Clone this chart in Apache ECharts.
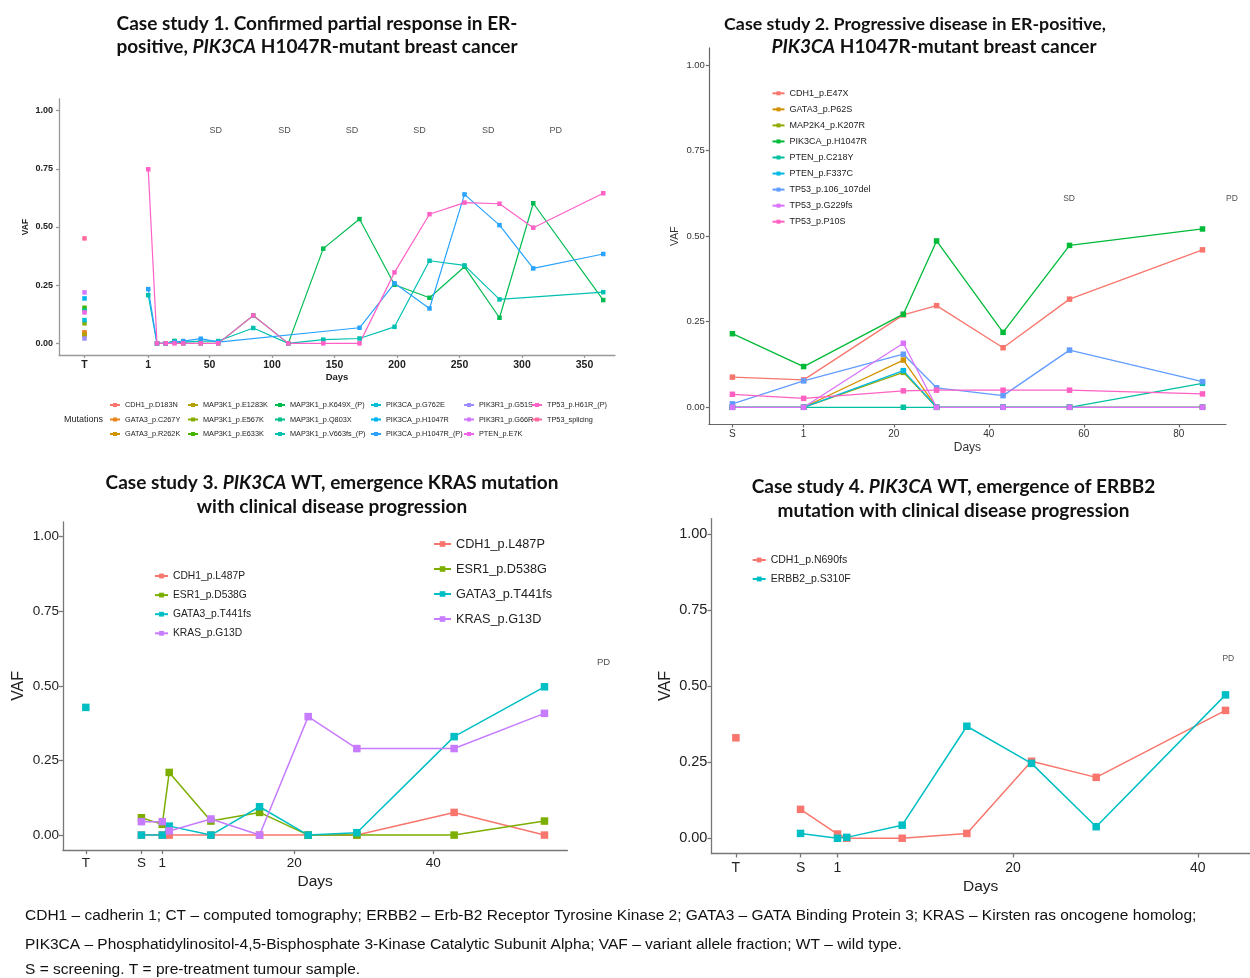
<!DOCTYPE html>
<html><head><meta charset="utf-8">
<script src="https://cdn.jsdelivr.net/npm/echarts@6/dist/echarts.min.js"></script>
<style>
body{margin:0;background:#fff;width:1250px;height:978px;position:relative;overflow:hidden}
.c{position:absolute}
</style></head><body>
<div id="p1" class="c" style="left:0;top:0;width:625px;height:460px"></div>
<div id="p2" class="c" style="left:625px;top:0;width:625px;height:460px"></div>
<div id="p3" class="c" style="left:0;top:460px;width:625px;height:440px"></div>
<div id="p4" class="c" style="left:625px;top:460px;width:625px;height:440px"></div>
<div id="foot" class="c" style="left:0;top:900px;width:1250px;height:78px"></div>
<script>
// ---------------- DATA ----------------
const yTicks = [0, 0.25, 0.5, 0.75, 1];

// Case study 1
const p1Mutations = ['CDH1_p.D183N','GATA3_p.C267Y','GATA3_p.R262K','MAP3K1_p.E1283K','MAP3K1_p.E567K','MAP3K1_p.E633K','MAP3K1_p.K649X_(P)','MAP3K1_p.Q803X','MAP3K1_p.V663fs_(P)','PIK3CA_p.G762E','PIK3CA_p.H1047R','PIK3CA_p.H1047R_(P)','PIK3R1_p.G51S','PIK3R1_p.G66R','PTEN_p.E7K','TP53_p.H61R_(P)','TP53_splicing'];
const p1TumourDay = -50;
const p1TumourVAF = [0.045, 0.047, 0.036, 0.036, 0.086, 0.153, null, 0.142, null, 0.100, 0.193, null, 0.021, 0.219, 0.133, null, 0.451];
const p1Days = [1, 8, 15, 22, 29, 43, 57, 85, 113, 141, 170, 198, 226, 254, 282, 309, 365];
const p1_MAP3K1_K649X_P  = [null, 0, 0, 0.010, 0, 0, 0, 0.120, 0, 0.407, 0.534, 0.252, 0.196, 0.329, 0.110, 0.602, 0.186];
const p1_MAP3K1_V663fs_P = [0.207, 0, 0, 0.010, 0.005, 0.010, 0.010, 0.066, 0, 0.016, 0.021, 0.071, 0.355, 0.335, 0.189, null, 0.220];
const p1_PIK3CA_H1047R_P = [0.233, 0, 0, 0.005, 0.010, 0.020, 0.005, null, null, null, 0.067, 0.258, 0.150, 0.640, 0.508, 0.322, 0.384];
const p1_TP53_H61R_P     = [0.748, 0, 0, 0, 0, 0, 0, 0.120, 0, 0, 0, 0.305, 0.555, 0.605, 0.600, 0.497, 0.645];
const p1XTicks = [-50, 1, 50, 100, 150, 200, 250, 300, 350];
const p1XLabels = ['T', '1', '50', '100', '150', '200', '250', '300', '350'];
const p1RespDays = [55, 110, 164, 218, 273, 327];
const p1RespText = ['SD', 'SD', 'SD', 'SD', 'SD', 'PD'];
const p1RespVAF = 0.913;

// Case study 2
const p2Mutations = ['CDH1_p.E47X','GATA3_p.P62S','MAP2K4_p.K207R','PIK3CA_p.H1047R','PTEN_p.C218Y','PTEN_p.F337C','TP53_p.106_107del','TP53_p.G229fs','TP53_p.P10S'];
const p2Days = [-14, 1, 22, 29, 43, 57, 85];
const p2_CDH1_E47X      = [0.088, 0.080, 0.270, 0.297, 0.174, 0.316, 0.460];
const p2_GATA3_P62S     = [0, 0, 0.138, 0, 0, 0, 0];
const p2_MAP2K4_K207R   = [0, 0, 0.102, 0, 0, 0, 0];
const p2_PIK3CA_H1047R  = [0.215, 0.119, 0.272, 0.486, 0.219, 0.473, 0.521];
const p2_PTEN_C218Y     = [0, 0, 0, 0, 0, 0, 0.070];
const p2_PTEN_F337C     = [0, 0, 0.107, 0, 0, 0, 0];
const p2_TP53_106_107del= [0.010, 0.077, 0.155, 0.057, 0.034, 0.167, 0.075];
const p2_TP53_G229fs    = [0, 0, 0.187, 0, 0, 0, 0];
const p2_TP53_P10S      = [0.038, 0.026, 0.048, 0.050, 0.050, 0.050, 0.039];
const p2XTicks = [-14, 1, 20, 40, 60, 80];
const p2XLabels = ['S', '1', '20', '40', '60', '80'];
const p2RespDays = [56.9, 91.2];
const p2RespText = ['SD', 'PD'];
const p2RespVAF = 0.611;

// Case study 3
const p3Mutations = ['CDH1_p.L487P','ESR1_p.D538G','GATA3_p.T441fs','KRAS_p.G13D'];
const p3TumourDay = -10;
const p3TumourVAF = [null, null, 0.428, null];
const p3Days = [-2, 1, 2, 8, 15, 22, 29, 43, 56];
const p3_CDH1_L487P   = [0, 0, 0, 0, 0, 0, 0, 0.076, 0];
const p3_ESR1_D538G   = [0.058, 0.036, 0.210, 0.047, 0.076, 0, 0, 0, 0.047];
const p3_GATA3_T441fs = [0, 0, 0.030, 0, 0.095, 0, 0.008, 0.330, 0.497];
const p3_KRAS_G13D    = [0.045, 0.045, 0.014, 0.054, 0, 0.397, 0.290, 0.290, 0.408];
const p3XTicks = [-10, -2, 1, 20, 40];
const p3XLabels = ['T', 'S', '1', '20', '40'];
const p3RespDays = [64.5];
const p3RespText = ['PD'];
const p3RespVAF = 0.58;

// Case study 4
const p4Mutations = ['CDH1_p.N690fs','ERBB2_p.S310F'];
const p4TumourDay = -10;
const p4TumourVAF = [0.330, null];
const p4Days = [-3, 1, 2, 8, 15, 22, 29, 43];
const p4_CDH1_N690fs = [0.095, 0.014, 0, 0, 0.016, 0.253, 0.200, 0.420];
const p4_ERBB2_S310F = [0.016, 0, 0.003, 0.043, 0.368, 0.246, 0.038, 0.471];
const p4XTicks = [-10, -3, 1, 20, 40];
const p4XLabels = ['T', 'S', '1', '20', '40'];
const p4RespDays = [43.3];
const p4RespText = ['PD'];
const p4RespVAF = 0.59;

const footLines = [
  'CDH1 \u2013 cadherin 1; CT \u2013 computed tomography; ERBB2 \u2013 Erb-B2 Receptor Tyrosine Kinase 2; GATA3 \u2013 GATA Binding Protein 3; KRAS \u2013 Kirsten ras oncogene homolog;',
  'PIK3CA \u2013 Phosphatidylinositol-4,5-Bisphosphate 3-Kinase Catalytic Subunit Alpha; VAF \u2013 variant allele fraction; WT \u2013 wild type.',
  'S = screening. T = pre-treatment tumour sample.'
];

// ---------------- HELPERS ----------------
const FONT = '"Liberation Sans", Arial, sans-serif';
const TFONT = 'Lato, "Open Sans", sans-serif';

function hcl(h, c, l) {
  const Xn = 95.047, Yn = 100, Zn = 108.883;
  const un = 4 * Xn / (Xn + 15 * Yn + 3 * Zn), vn = 9 * Yn / (Xn + 15 * Yn + 3 * Zn);
  const hr = h * Math.PI / 180, U = c * Math.cos(hr), V = c * Math.sin(hr);
  const Y = Yn * (l > 7.999592 ? Math.pow((l + 16) / 116, 3) : l / 903.3);
  const u = U / (13 * l) + un, v = V / (13 * l) + vn;
  const X = 9 * Y * u / (4 * v), Z = -X / 3 - 5 * Y + 3 * Y / v;
  const x = X / 100, y = Y / 100, z = Z / 100;
  const lin = [3.240479 * x - 1.537150 * y - 0.498535 * z,
               -0.969256 * x + 1.875992 * y + 0.041556 * z,
               0.055648 * x - 0.204043 * y + 1.057311 * z];
  return '#' + lin.map(t => {
    t = t > 0.00304 ? 1.055 * Math.pow(t, 1 / 2.4) - 0.055 : 12.92 * t;
    t = Math.max(0, Math.min(1, t));
    return Math.round(t * 255).toString(16).padStart(2, '0');
  }).join('');
}
function huePal(n) { const o = []; for (let i = 0; i < n; i++) o.push(hcl(15 + 360 * i / n, 100, 65)); return o; }
function zip(days, vals) { const o = []; days.forEach((d, i) => { if (vals[i] != null) o.push([d, vals[i]]); }); return o; }

function lineSeries(name, data, color, sym, lw) {
  return { type: 'line', name, data, color, symbol: 'rect', symbolSize: sym, showSymbol: true,
    lineStyle: { width: lw, color }, itemStyle: { color }, emphasis: { disabled: true }, animation: false };
}
function respSeries(days, texts, vaf, fs) {
  return { type: 'scatter', data: days.map((d, i) => ({ name: texts[i], value: [d, vaf] })),
    symbolSize: 1, itemStyle: { color: 'rgba(0,0,0,0)' }, clip: false, silent: true, animation: false,
    label: { show: true, position: 'inside', formatter: '{b}', fontSize: fs, color: '#222', fontFamily: FONT } };
}
function xAxisCfg(p) {
  return { type: 'value', min: p.min, max: p.max,
    axisLine: { show: true, onZero: false, lineStyle: { color: p.ac, width: p.aw } },
    axisTick: { show: true, length: p.tl, customValues: p.ticks, lineStyle: { color: p.ac, width: p.aw } },
    axisLabel: { customValues: p.ticks, formatter: v => { const i = p.ticks.indexOf(v); return i < 0 ? '' : p.labels[i]; },
      fontSize: p.fs, fontWeight: p.fw, color: p.lc, margin: p.margin, fontFamily: FONT },
    splitLine: { show: false }, name: 'Days', nameLocation: 'middle', nameGap: p.ng, nameMoveOverlap: false,
    nameTextStyle: { fontSize: p.nfs, fontWeight: p.fw, color: p.lc, fontFamily: FONT } };
}
function yAxisCfg(p) {
  return { type: 'value', min: -0.05, max: 1.05,
    axisLine: { show: true, onZero: false, lineStyle: { color: p.ac, width: p.aw } },
    axisTick: { show: true, length: p.tl, customValues: yTicks, lineStyle: { color: p.ac, width: p.aw } },
    axisLabel: { customValues: yTicks, formatter: v => v.toFixed(2), fontSize: p.fs, fontWeight: p.fw, color: p.lc, margin: p.margin, fontFamily: FONT },
    splitLine: { show: false }, name: 'VAF', nameLocation: 'middle', nameGap: p.ng, nameRotate: 90, nameMoveOverlap: false,
    nameTextStyle: { fontSize: p.nfs, fontWeight: p.fw, color: p.lc, fontFamily: FONT } };
}
function legendCfg(names, left, top, iw, ih, fs, lh, gap) {
  return { orient: 'vertical', left, top, padding: 0, itemWidth: iw, itemHeight: ih, itemGap: gap, data: names,
    textStyle: { fontSize: fs, lineHeight: lh, color: '#222', fontFamily: FONT }, selectedMode: false };
}
function titleText(x, y, text, fs) {
  return { type: 'text', x, y, silent: true,
    style: { text, align: 'center', verticalAlign: 'middle', fill: '#111',
      rich: { b: { fontSize: fs, fontWeight: 'bold', fontFamily: TFONT, fill: '#111' },
              i: { fontSize: fs, fontWeight: 'bold', fontStyle: 'italic', fontFamily: TFONT, fill: '#111' } } } };
}

// ---------------- PANEL 1 ----------------
(function () {
  const pal = huePal(p1Mutations.length);
  const plasma = { 'MAP3K1_p.K649X_(P)': p1_MAP3K1_K649X_P, 'MAP3K1_p.V663fs_(P)': p1_MAP3K1_V663fs_P,
                   'PIK3CA_p.H1047R_(P)': p1_PIK3CA_H1047R_P, 'TP53_p.H61R_(P)': p1_TP53_H61R_P };
  const series = [];
  p1Mutations.forEach((n, i) => {
    if (plasma[n]) series.push(lineSeries(n, zip(p1Days, plasma[n]), pal[i], 4.5, 1.2));
    else if (p1TumourVAF[i] != null) series.push(lineSeries(n, [[p1TumourDay, p1TumourVAF[i]]], pal[i], 4.5, 1.2));
  });
  series.push(respSeries(p1RespDays, p1RespText, p1RespVAF, 9));
  const cols = [[0, 3], [3, 6], [6, 9], [9, 12], [12, 15], [15, 17]];
  const colLeft = [109, 187, 274, 370, 463, 531];
  const ch = echarts.init(document.getElementById('p1'));
  ch.setOption({
    animation: false,
    grid: { left: 59, top: 99, width: 556, height: 256 },
    xAxis: xAxisCfg({ min: -70.4, max: 374.4, ticks: p1XTicks, labels: p1XLabels, ac: '#999', aw: 1.3, tl: 3,
      fs: 10.5, fw: 'bold', lc: '#222', margin: 5, ng: 17, nfs: 9.5 }),
    yAxis: yAxisCfg({ ac: '#999', aw: 1.3, tl: 3, fs: 9, fw: 'bold', lc: '#222', margin: 6, ng: 29, nfs: 8.5 }),
    legend: cols.map((c, k) => legendCfg(p1Mutations.slice(c[0], c[1]), colLeft[k], 400, 10, 5, 7.3, 10, 4.5)),
    graphic: [
      titleText(317, 24, '{b|Case study 1. Confirmed partial response in ER-}', 19),
      titleText(317, 47, '{b|positive, }{i|PIK3CA}{b| H1047R-mutant breast cancer}', 19),
      { type: 'text', x: 103, y: 419.5, silent: true, style: { text: 'Mutations', align: 'right', verticalAlign: 'middle', fontSize: 9, fontFamily: FONT, fill: '#222' } }
    ],
    series
  });
})();

// ---------------- PANEL 2 ----------------
(function () {
  const pal = huePal(p2Mutations.length);
  const vals = [p2_CDH1_E47X, p2_GATA3_P62S, p2_MAP2K4_K207R, p2_PIK3CA_H1047R, p2_PTEN_C218Y, p2_PTEN_F337C, p2_TP53_106_107del, p2_TP53_G229fs, p2_TP53_P10S];
  const series = p2Mutations.map((n, i) => lineSeries(n, zip(p2Days, vals[i]), pal[i], 5.5, 1.3));
  series.push(respSeries(p2RespDays, p2RespText, p2RespVAF, 8.5));
  const ch = echarts.init(document.getElementById('p2'));
  ch.setOption({
    animation: false,
    grid: { left: 83.9, top: 47.9, width: 517.1, height: 376.5 },
    xAxis: xAxisCfg({ min: -18.95, max: 89.95, ticks: p2XTicks, labels: p2XLabels, ac: '#666', aw: 1.2, tl: 3,
      fs: 10, fw: 'normal', lc: '#333', margin: 5, ng: 17, nfs: 12 }),
    yAxis: yAxisCfg({ ac: '#666', aw: 1.2, tl: 3, fs: 9.5, fw: 'normal', lc: '#333', margin: 4, ng: 28.5, nfs: 10.5 }),
    legend: legendCfg(p2Mutations, 146.5, 88.3, 12, 5, 9, 10, 6.05),
    graphic: [
      titleText(290, 24, '{b|Case study 2. Progressive disease in ER-positive,}', 17.8),
      titleText(309, 47, '{i|PIK3CA}{b| H1047R-mutant breast cancer}', 19)
    ],
    series
  });
})();

// ---------------- PANEL 3 ----------------
(function () {
  const pal = huePal(p3Mutations.length);
  const vals = [p3_CDH1_L487P, p3_ESR1_D538G, p3_GATA3_T441fs, p3_KRAS_G13D];
  const series = [];
  p3Mutations.forEach((n, i) => {
    series.push(lineSeries(n, zip(p3Days, vals[i]), pal[i], 7.5, 1.5));
    if (p3TumourVAF[i] != null) series.push(lineSeries(n, [[p3TumourDay, p3TumourVAF[i]]], pal[i], 7.5, 1.5));
  });
  series.push(respSeries(p3RespDays, p3RespText, p3RespVAF, 9.5));
  const ch = echarts.init(document.getElementById('p3'));
  ch.setOption({
    animation: false,
    grid: { left: 62.9, top: 61.8, width: 504.5, height: 328.2 },
    xAxis: xAxisCfg({ min: -13.3, max: 59.3, ticks: p3XTicks, labels: p3XLabels, ac: '#777', aw: 1.3, tl: 4,
      fs: 13.5, fw: 'normal', lc: '#222', margin: 6, ng: 24, nfs: 15.5 }),
    yAxis: yAxisCfg({ ac: '#777', aw: 1.3, tl: 4, fs: 13.5, fw: 'normal', lc: '#222', margin: 4, ng: 36.5, nfs: 16 }),
    legend: [legendCfg(p3Mutations, 154, 110, 13, 6, 10.3, 12, 7.1),
             legendCfg(p3Mutations, 433, 76, 17, 7, 12.7, 16, 9)],
    graphic: [
      titleText(332, 23, '{b|Case study 3. }{i|PIK3CA}{b| WT, emergence KRAS mutation}', 19),
      titleText(332, 47, '{b|with clinical disease progression}', 19)
    ],
    series
  });
})();

// ---------------- PANEL 4 ----------------
(function () {
  const pal = huePal(p4Mutations.length);
  const vals = [p4_CDH1_N690fs, p4_ERBB2_S310F];
  const series = [];
  p4Mutations.forEach((n, i) => {
    series.push(lineSeries(n, zip(p4Days, vals[i]), pal[i], 7.5, 1.5));
    if (p4TumourVAF[i] != null) series.push(lineSeries(n, [[p4TumourDay, p4TumourVAF[i]]], pal[i], 7.5, 1.5));
  });
  series.push(respSeries(p4RespDays, p4RespText, p4RespVAF, 8.5));
  const ch = echarts.init(document.getElementById('p4'));
  ch.setOption({
    animation: false,
    grid: { left: 86.4, top: 58.6, width: 547.6, height: 338.1 },
    xAxis: xAxisCfg({ min: -12.65, max: 45.65, ticks: p4XTicks, labels: p4XLabels, ac: '#777', aw: 1.3, tl: 4,
      fs: 14, fw: 'normal', lc: '#222', margin: 8, ng: 25.5, nfs: 15.5 }),
    yAxis: yAxisCfg({ ac: '#777', aw: 1.3, tl: 4, fs: 14.5, fw: 'normal', lc: '#222', margin: 4, ng: 38, nfs: 16 }),
    legend: legendCfg(p4Mutations, 126.7, 94, 13, 6, 10.5, 12, 7),
    graphic: [
      titleText(328.5, 27, '{b|Case study 4. }{i|PIK3CA}{b| WT, emergence of ERBB2}', 19),
      titleText(328.5, 51, '{b|mutation with clinical disease progression}', 19)
    ],
    series
  });
})();

// ---------------- FOOTER ----------------
(function () {
  const ch = echarts.init(document.getElementById('foot'));
  const ys = [16, 45, 70];
  ch.setOption({
    animation: false,
    graphic: footLines.map((t, i) => ({ type: 'text', x: 25, y: ys[i], silent: true,
      style: { text: t, align: 'left', verticalAlign: 'middle', fontSize: 15.5, fontFamily: FONT, fill: '#111' } }))
  });
})();
</script>
</body></html>
